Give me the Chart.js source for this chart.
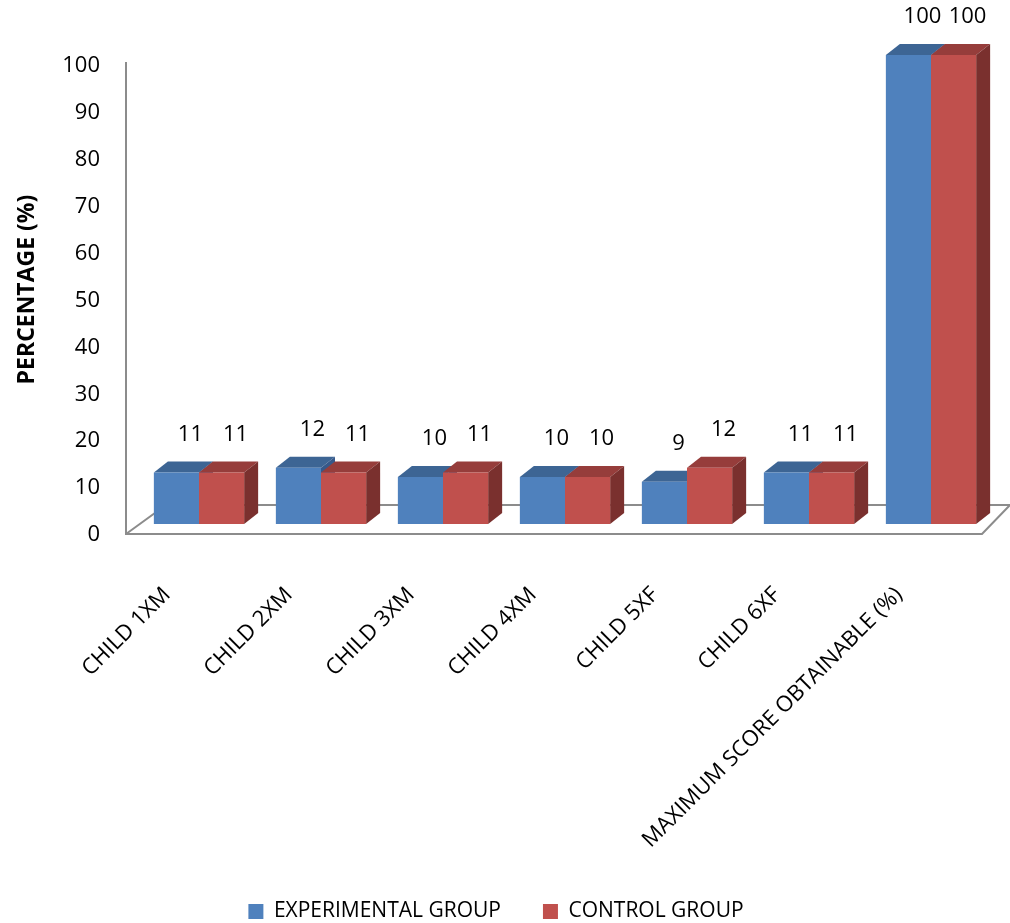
<!DOCTYPE html>
<html>
<head>
<meta charset="utf-8">
<script src="https://cdn.jsdelivr.net/npm/chart.js@4.4.1/dist/chart.umd.min.js"></script>
<style>
  html, body { margin: 0; padding: 0; background: #fff; }
</style>
</head>
<body>
<canvas id="scoreChart" width="1010" height="923"></canvas>
<script>
// data
const categories = ['CHILD 1XM', 'CHILD 2XM', 'CHILD 3XM', 'CHILD 4XM', 'CHILD 5XF', 'CHILD 6XF', 'MAXIMUM SCORE OBTAINABLE (%)'];
const experimental = [11, 12, 10, 10, 9, 11, 100];
const control = [11, 11, 11, 10, 12, 11, 100];
const seriesNames = ['EXPERIMENTAL GROUP', 'CONTROL GROUP'];

// front / top / side shades for the fake 3d boxes
const frontColors = ['#4F81BD', '#C0504D'];
const topColors = ['#3D6594', '#963D3B'];
const sideColors = ['#36598A', '#7A302E'];

const FONT = "'Open Sans', 'Noto Sans', sans-serif";
const DX = 14, DY = -11;   // box depth

const box3d = {
    id: 'box3d',
    beforeDatasetsDraw(chart) {
        const ctx = chart.ctx;
        const y0 = chart.scales.y.getPixelForValue(0);
        const area = chart.chartArea;

        // floor + vertical axis
        ctx.save();
        ctx.strokeStyle = '#8C8C8C';
        ctx.lineWidth = 2;
        ctx.beginPath();
        ctx.moveTo(area.left - 12, chart.scales.y.getPixelForValue(100) + 7);
        ctx.lineTo(area.left - 12, y0 + 10);
        ctx.lineTo(area.right - 10, y0 + 10);
        ctx.lineTo(area.right + 18, y0 - 19);
        ctx.lineTo(area.left + 28, y0 - 19);
        ctx.lineTo(area.left - 12, y0 + 10);
        ctx.stroke();

        // tops and sides, category by category so the next series covers the previous side
        for (let i = 0; i < categories.length; i++) {
            chart.data.datasets.forEach((ds, d) => {
                const bar = chart.getDatasetMeta(d).data[i];
                const p = bar.getProps(['x', 'y', 'base', 'width'], true);
                const l = p.x - p.width / 2, r = p.x + p.width / 2;
                ctx.fillStyle = topColors[d];
                ctx.beginPath();
                ctx.moveTo(l, p.y);
                ctx.lineTo(r, p.y);
                ctx.lineTo(r + DX, p.y + DY);
                ctx.lineTo(l + DX, p.y + DY);
                ctx.closePath();
                ctx.fill();
                ctx.fillStyle = sideColors[d];
                ctx.beginPath();
                ctx.moveTo(r, p.y);
                ctx.lineTo(r + DX, p.y + DY);
                ctx.lineTo(r + DX, p.base + DY);
                ctx.lineTo(r, p.base);
                ctx.closePath();
                ctx.fill();
            });
        }
        ctx.restore();
    },
    afterDatasetsDraw(chart) {
        const ctx = chart.ctx;
        ctx.save();
        ctx.font = '22px ' + FONT;
        ctx.fillStyle = '#000';
        ctx.textAlign = 'center';
        ctx.textBaseline = 'middle';
        chart.data.datasets.forEach((ds, d) => {
            chart.getDatasetMeta(d).data.forEach((bar, i) => {
                ctx.fillText(String(ds.data[i]), bar.x + DX, bar.y - 38);
            });
        });
        ctx.restore();
    }
};

new Chart(document.getElementById('scoreChart').getContext('2d'), {
    type: 'bar',
    data: {
        labels: categories,
        datasets: [
            { label: seriesNames[0], data: experimental, backgroundColor: frontColors[0], borderWidth: 0 },
            { label: seriesNames[1], data: control, backgroundColor: frontColors[1], borderWidth: 0 }
        ]
    },
    options: {
        responsive: false,
        animation: false,
        layout: { padding: { top: 55, right: 18, bottom: -9, left: 0 } },
        datasets: { bar: { categoryPercentage: 0.74, barPercentage: 1.0 } },
        plugins: {
            legend: {
                position: 'bottom',
                labels: { boxWidth: 15, boxHeight: 15, padding: 42, color: '#000', font: { family: FONT, size: 21 } }
            },
            tooltip: { enabled: false }
        },
        scales: {
            x: {
                grid: { display: false },
                border: { display: false },
                ticks: {
                    autoSkip: false, maxRotation: 45, minRotation: 45,
                    labelOffset: -32, padding: 50,
                    color: '#000', font: { family: FONT, size: 22 }
                },
                afterFit(scale) { scale.height = 335; }
            },
            y: {
                min: 0, max: 100,
                grid: { display: false },
                border: { display: false },
                ticks: { stepSize: 10, padding: 30, labelOffset: 11, color: '#000', font: { family: FONT, size: 22 } },
                title: { display: true, text: 'PERCENTAGE (%)', color: '#000', padding: 14, font: { family: FONT, size: 23, weight: 'bold' } },
                afterFit(scale) { scale.width = 138; }
            }
        }
    },
    plugins: [box3d]
});
</script>
</body>
</html>
